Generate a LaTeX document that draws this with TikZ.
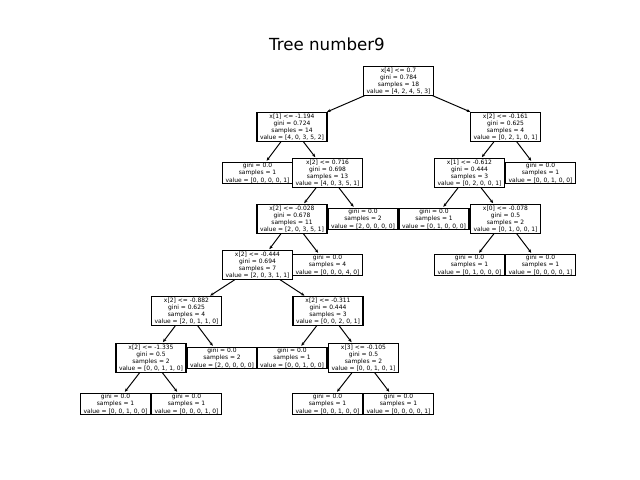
\documentclass[tikz,border=0pt]{standalone}
\usepackage{fontspec}
\setmainfont{DejaVu Sans}
\usetikzlibrary{arrows.meta}
\begin{document}
\begin{tikzpicture}[
  x=0.72pt, y=-0.72pt,
  tnode/.style={draw=black, line width=0.8pt, fill=white, align=center,
    font=\fontsize{4.3}{5.2}\selectfont, inner xsep=2.2pt, inner ysep=0.7pt, outer sep=0pt},
  edge/.style={line width=0.7pt, -{Stealth[length=2.6pt,width=2.2pt]}, shorten >=1.2pt, shorten <=0.3pt}
]
\useasboundingbox (0,0) rectangle (640,480);
\node[font=\fontsize{12}{14}\selectfont] (title) at (327,44) {Tree number9};

% level 0
\node[tnode] (n0) at (398.5,81) {x[4] <= 0.7\\gini = 0.784\\samples = 18\\value = [4, 2, 4, 5, 3]};
% level 1
\node[tnode] (n1) at (292,127) {x[1] <= -1.194\\gini = 0.724\\samples = 14\\value = [4, 0, 3, 5, 2]};
\node[tnode] (n2) at (505.5,127) {x[2] <= -0.161\\gini = 0.625\\samples = 4\\value = [0, 2, 1, 0, 1]};
% level 2
\node[tnode] (n3) at (257.5,173) {gini = 0.0\\samples = 1\\value = [0, 0, 0, 0, 1]};
\node[tnode] (n4) at (327.5,173) {x[2] <= 0.716\\gini = 0.698\\samples = 13\\value = [4, 0, 3, 5, 1]};
\node[tnode] (n5) at (469.5,173) {x[1] <= -0.612\\gini = 0.444\\samples = 3\\value = [0, 2, 0, 0, 1]};
\node[tnode] (n6) at (540.5,173) {gini = 0.0\\samples = 1\\value = [0, 0, 1, 0, 0]};
% level 3
\node[tnode] (n7) at (292,219) {x[2] <= -0.028\\gini = 0.678\\samples = 11\\value = [2, 0, 3, 5, 1]};
\node[tnode] (n8) at (363,219) {gini = 0.0\\samples = 2\\value = [2, 0, 0, 0, 0]};
\node[tnode] (n9) at (434,219) {gini = 0.0\\samples = 1\\value = [0, 1, 0, 0, 0]};
\node[tnode] (n10) at (505.5,219) {x[0] <= -0.078\\gini = 0.5\\samples = 2\\value = [0, 1, 0, 0, 1]};
% level 4
\node[tnode] (n11) at (257.5,265) {x[2] <= -0.444\\gini = 0.694\\samples = 7\\value = [2, 0, 3, 1, 1]};
\node[tnode] (n12) at (327.5,265) {gini = 0.0\\samples = 4\\value = [0, 0, 0, 4, 0]};
\node[tnode] (n13) at (469.5,265) {gini = 0.0\\samples = 1\\value = [0, 1, 0, 0, 0]};
\node[tnode] (n14) at (540.5,265) {gini = 0.0\\samples = 1\\value = [0, 0, 0, 0, 1]};
% level 5
\node[tnode] (n15) at (186.5,311) {x[2] <= -0.882\\gini = 0.625\\samples = 4\\value = [2, 0, 1, 1, 0]};
\node[tnode] (n16) at (328,311) {x[2] <= -0.311\\gini = 0.444\\samples = 3\\value = [0, 0, 2, 0, 1]};
% level 6
\node[tnode] (n17) at (151,358) {x[2] <= -1.335\\gini = 0.5\\samples = 2\\value = [0, 0, 1, 1, 0]};
\node[tnode] (n18) at (222,358) {gini = 0.0\\samples = 2\\value = [2, 0, 0, 0, 0]};
\node[tnode] (n19) at (292,358) {gini = 0.0\\samples = 1\\value = [0, 0, 1, 0, 0]};
\node[tnode] (n20) at (363.5,358) {x[3] <= -0.105\\gini = 0.5\\samples = 2\\value = [0, 0, 1, 0, 1]};
% level 7
\node[tnode] (n21) at (115.5,404) {gini = 0.0\\samples = 1\\value = [0, 0, 1, 0, 0]};
\node[tnode] (n22) at (186.5,404) {gini = 0.0\\samples = 1\\value = [0, 0, 0, 1, 0]};
\node[tnode] (n23) at (327.5,404) {gini = 0.0\\samples = 1\\value = [0, 0, 1, 0, 0]};
\node[tnode] (n24) at (398.5,404) {gini = 0.0\\samples = 1\\value = [0, 0, 0, 0, 1]};

% connectors
\foreach \p/\c in {n0/n1, n0/n2, n1/n3, n1/n4, n2/n5, n2/n6, n4/n7, n4/n8,
                   n5/n9, n5/n10, n7/n11, n7/n12, n10/n13, n10/n14,
                   n11/n15, n11/n16, n15/n17, n15/n18, n16/n19, n16/n20,
                   n17/n21, n17/n22, n20/n23, n20/n24}
  \draw[edge] (\p) -- (\c);
\end{tikzpicture}
\end{document}
